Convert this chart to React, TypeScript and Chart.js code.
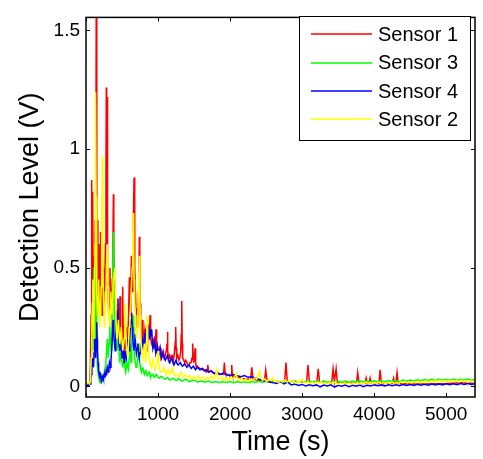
import React, { useEffect, useRef } from "react";
import { Chart, registerables } from "chart.js";

Chart.register(...registerables);

const FONT = "'Liberation Sans', Arial, Helvetica, sans-serif";

const xTicks = [0, 1000, 2000, 3000, 4000, 5000];
const yTicks = [0, 0.5, 1, 1.5];
const xTitle = "Time (s)";
const yTitle = "Detection Level (V)";
const seriesLabels = ["Sensor 1", "Sensor 3", "Sensor 4", "Sensor 2"];
const seriesColors = ["#ff0000", "#00ff00", "#0000ff", "#ffff00"];

// [time (s), level (V)]
const sensor1: [number, number][] = [
  [0, 0.01], [20, 0.01], [40, 0.015], [55, 0.02], [62, 0.1], [70, 0.3], [79, 0.87], [84, 0.4], [88, 0.2], [92, 0.5], [97, 0.82],
  [101, 0.3], [105, 0.35], [112, 0.55], [120, 0.4], [128, 0.7], [135, 0.6], [143, 1.75], [148, 0.8], [152, 0.5], [158, 0.7], [165, 0.35],
  [172, 0.5], [180, 0.6], [187, 0.4], [195, 0.3], [202, 0.65], [210, 0.45], [218, 0.55], [225, 0.3], [232, 0.42], [240, 0.5],
  [248, 0.3], [255, 0.35], [262, 0.45], [270, 0.6], [277, 0.9], [282, 1.26], [287, 0.7], [292, 1.22],
  [297, 0.8], [302, 0.5], [308, 0.4], [315, 0.3], [324, 0.38], [333, 0.5], [341, 0.35], [350, 0.3], [358, 0.38], [365, 0.45], [373, 0.55], [380, 0.81], [386, 0.6], [392, 0.45], [398, 0.35], [405, 0.3],
  [412, 0.35], [420, 0.25], [430, 0.28], [440, 0.32], [447, 0.22], [455, 0.2], [463, 0.28], [472, 0.38], [478, 0.25], [485, 0.2], [492, 0.24], [500, 0.18], [509, 0.42], [515, 0.26], [520, 0.2],
  [530, 0.22], [540, 0.15], [550, 0.2], [560, 0.25], [570, 0.17], [580, 0.2], [591, 0.3], [602, 0.46], [608, 0.35], [615, 0.3], [622, 0.4], [630, 0.55], [637, 0.45], [645, 0.4], [651, 0.5], [657, 0.7],
  [667, 0.88], [673, 0.65], [680, 0.5], [688, 0.38], [695, 0.3], [702, 0.33], [710, 0.25], [719, 0.3], [728, 0.4], [735, 0.5], [741, 0.63], [747, 0.45], [752, 0.35], [760, 0.25], [770, 0.2],
  [780, 0.28], [790, 0.25], [800, 0.2], [810, 0.18], [820, 0.24], [830, 0.22], [840, 0.17], [850, 0.15], [860, 0.19], [870, 0.2], [880, 0.22], [889, 0.3], [895, 0.24], [900, 0.2], [910, 0.18], [920, 0.17],
  [932, 0.19], [945, 0.2], [958, 0.16], [966, 0.2], [972, 0.24], [978, 0.18], [985, 0.15], [997, 0.16], [1010, 0.14], [1025, 0.16], [1040, 0.12], [1055, 0.14], [1070, 0.15], [1085, 0.12], [1100, 0.13], [1115, 0.15], [1125, 0.18], [1130, 0.23],
  [1138, 0.15], [1145, 0.12], [1158, 0.13], [1170, 0.11], [1185, 0.13], [1200, 0.13], [1215, 0.11], [1230, 0.15], [1240, 0.19], [1245, 0.25], [1252, 0.16], [1260, 0.12], [1275, 0.13], [1290, 0.11], [1303, 0.12], [1315, 0.15],
  [1322, 0.22], [1329, 0.36], [1336, 0.18], [1342, 0.12], [1356, 0.11], [1370, 0.1], [1385, 0.11], [1400, 0.1], [1415, 0.09], [1430, 0.09], [1445, 0.1], [1460, 0.1], [1472, 0.12], [1481, 0.18], [1488, 0.12], [1495, 0.1],
  [1505, 0.12], [1514, 0.16], [1522, 0.1], [1530, 0.08], [1545, 0.085], [1560, 0.08], [1580, 0.075], [1600, 0.07], [1620, 0.075], [1640, 0.07], [1655, 0.065], [1670, 0.06], [1682, 0.07], [1690, 0.09], [1700, 0.07], [1710, 0.06],
  [1730, 0.065], [1750, 0.06], [1775, 0.055], [1800, 0.05], [1825, 0.055], [1850, 0.05], [1875, 0.052], [1900, 0.05], [1912, 0.06], [1921, 0.1], [1930, 0.06], [1940, 0.05], [1960, 0.048], [1980, 0.05], [2005, 0.04],
  [2015, 0.05], [2023, 0.09], [2031, 0.05], [2040, 0.04], [2070, 0.042], [2100, 0.04], [2150, 0.035], [2200, 0.03], [2250, 0.03], [2285, 0.03], [2301, 0.08],
  [2318, 0.03], [2400, 0.025], [2478, 0.025], [2495, 0.07], [2512, 0.025], [2600, 0.02], [2700, 0.02], [2758, 0.02],
  [2776, 0.1], [2794, 0.02], [2900, 0.02], [3000, 0.018], [3062, 0.018], [3082, 0.09], [3100, 0.018], [3205, 0.018],
  [3224, 0.074], [3242, 0.018], [3410, 0.015], [3430, 0.074], [3448, 0.02], [3472, 0.074], [3490, 0.015], [3600, 0.015],
  [3755, 0.012], [3772, 0.058], [3790, 0.012], [3872, 0.012], [3889, 0.035], [3905, 0.012], [3928, 0.012], [3944, 0.035],
  [3960, 0.012], [4066, 0.012], [4083, 0.07], [4100, 0.012], [4250, 0.012], [4270, 0.035], [4285, 0.012], [4302, 0.012],
  [4318, 0.058], [4335, 0.012], [4500, 0.01], [4700, 0.01], [5000, 0.012], [5200, 0.015], [5400, 0.012],
];

const sensor3: [number, number][] = [
  [0, 0.005], [40, 0.005], [60, 0.02], [70, 0.1], [80, 0.3], [88, 0.2], [95, 0.15], [102, 0.3], [110, 0.5], [118, 0.3], [125, 0.2], [132, 0.4], [140, 0.6],
  [147, 0.3], [155, 0.1], [165, 0.06], [175, 0.04], [185, 0.025], [195, 0.015], [205, 0.025], [215, 0.02], [225, 0.035], [235, 0.03], [245, 0.05], [255, 0.06], [265, 0.08], [275, 0.1], [285, 0.14], [295, 0.2],
  [302, 0.15], [310, 0.12], [320, 0.18], [330, 0.25], [340, 0.18], [350, 0.15], [358, 0.22], [365, 0.35], [372, 0.5], [380, 0.65], [386, 0.45], [392, 0.3], [400, 0.24], [410, 0.2], [420, 0.17], [430, 0.15],
  [440, 0.18], [450, 0.22], [460, 0.14], [470, 0.1], [480, 0.13], [490, 0.15], [500, 0.1], [510, 0.08], [520, 0.1], [530, 0.12], [540, 0.08], [550, 0.06], [560, 0.08], [570, 0.1], [580, 0.08], [590, 0.07],
  [600, 0.12], [610, 0.18], [618, 0.13], [625, 0.1], [635, 0.18], [645, 0.25], [652, 0.27], [660, 0.3], [667, 0.2], [675, 0.12], [685, 0.1], [695, 0.08], [705, 0.09], [715, 0.1], [725, 0.14], [735, 0.18],
  [742, 0.12], [750, 0.09], [760, 0.07], [770, 0.06], [780, 0.075], [790, 0.08], [800, 0.06], [810, 0.05], [820, 0.06], [830, 0.07], [840, 0.05], [850, 0.045], [862, 0.055], [875, 0.06], [888, 0.045], [900, 0.04],
  [915, 0.05], [930, 0.05], [945, 0.038], [960, 0.04], [975, 0.05], [990, 0.045], [1005, 0.035], [1020, 0.035], [1040, 0.042], [1060, 0.04], [1080, 0.032], [1100, 0.03], [1120, 0.036], [1140, 0.035], [1160, 0.027], [1180, 0.028],
  [1200, 0.034], [1220, 0.032], [1240, 0.026], [1260, 0.025], [1280, 0.032], [1300, 0.03], [1325, 0.022], [1350, 0.024], [1375, 0.03], [1400, 0.028], [1425, 0.02], [1450, 0.02], [1475, 0.027], [1500, 0.025], [1550, 0.018],
  [1600, 0.022], [1650, 0.017], [1700, 0.022], [1750, 0.016], [1800, 0.02], [1850, 0.015], [1900, 0.02], [1950, 0.016],
  [2000, 0.02], [2050, 0.015], [2100, 0.02], [2150, 0.016], [2200, 0.019], [2250, 0.015], [2300, 0.02], [2350, 0.016],
  [2400, 0.021], [2450, 0.017], [2500, 0.022], [2550, 0.017], [2600, 0.021], [2650, 0.016], [2700, 0.02], [2750, 0.016],
  [2800, 0.021], [2850, 0.017], [2900, 0.022], [2950, 0.017], [3000, 0.021], [3050, 0.018], [3100, 0.023], [3150, 0.017],
  [3200, 0.021], [3250, 0.017], [3300, 0.022], [3350, 0.016], [3400, 0.02], [3450, 0.016], [3500, 0.021], [3550, 0.017],
  [3600, 0.022], [3650, 0.017], [3700, 0.021], [3750, 0.018], [3800, 0.023], [3850, 0.018], [3900, 0.022], [3950, 0.018],
  [4000, 0.023], [4050, 0.019], [4100, 0.022], [4150, 0.019], [4200, 0.024], [4250, 0.02], [4300, 0.024], [4350, 0.02],
  [4400, 0.026], [4450, 0.022], [4500, 0.027], [4550, 0.023], [4600, 0.028], [4650, 0.024], [4700, 0.029], [4750, 0.025],
  [4800, 0.03], [4850, 0.025], [4900, 0.031], [4950, 0.026], [5000, 0.03], [5050, 0.026], [5100, 0.031], [5150, 0.026],
  [5200, 0.03], [5250, 0.027], [5300, 0.031], [5350, 0.026], [5400, 0.029],
];

const sensor4: [number, number][] = [
  [0, 0.005], [40, 0.005], [60, 0.01], [68, 0.03], [75, 0.05], [82, 0.09], [90, 0.12], [97, 0.1], [105, 0.08], [112, 0.14], [120, 0.2], [127, 0.15], [135, 0.12],
  [143, 0.2], [150, 0.27], [155, 0.2], [160, 0.15], [167, 0.1], [175, 0.07], [182, 0.05], [190, 0.04], [197, 0.055], [205, 0.05], [212, 0.035], [220, 0.03], [228, 0.04], [236, 0.045], [243, 0.035], [250, 0.04],
  [258, 0.05], [265, 0.06], [272, 0.045], [280, 0.05], [288, 0.07], [295, 0.08], [302, 0.065], [310, 0.06], [318, 0.08], [325, 0.1], [332, 0.09], [340, 0.08], [347, 0.11], [355, 0.15], [365, 0.2], [375, 0.28],
  [382, 0.24], [390, 0.2], [398, 0.17], [405, 0.15], [412, 0.19], [420, 0.25], [432, 0.3], [444, 0.37], [450, 0.27], [455, 0.2], [462, 0.17], [470, 0.15], [478, 0.17], [485, 0.2], [492, 0.15], [500, 0.12],
  [507, 0.15], [515, 0.18], [522, 0.13], [530, 0.1], [537, 0.12], [545, 0.15], [552, 0.13], [560, 0.12], [570, 0.16], [580, 0.2], [590, 0.17], [600, 0.15], [607, 0.2], [615, 0.25], [625, 0.28], [634, 0.31],
  [642, 0.25], [650, 0.2], [657, 0.17], [665, 0.15], [672, 0.18], [680, 0.22], [690, 0.17], [700, 0.14], [710, 0.16], [720, 0.18], [730, 0.14], [740, 0.12], [750, 0.14], [760, 0.16], [770, 0.18], [780, 0.2],
  [790, 0.17], [800, 0.15], [810, 0.18], [820, 0.22], [830, 0.2], [840, 0.18], [850, 0.22], [861, 0.26], [868, 0.22], [875, 0.2], [882, 0.21], [890, 0.23], [900, 0.21], [912, 0.24], [921, 0.19], [930, 0.16],
  [940, 0.17], [950, 0.19], [960, 0.16], [970, 0.14], [980, 0.15], [990, 0.17], [1000, 0.15], [1010, 0.13], [1020, 0.14], [1030, 0.16], [1040, 0.14], [1050, 0.12], [1060, 0.13], [1070, 0.14], [1085, 0.12], [1100, 0.11],
  [1115, 0.12], [1130, 0.13], [1145, 0.11], [1160, 0.1], [1175, 0.11], [1190, 0.12], [1205, 0.1], [1220, 0.09], [1235, 0.1], [1250, 0.11], [1265, 0.095], [1280, 0.09], [1295, 0.095], [1310, 0.1], [1325, 0.09], [1340, 0.085],
  [1370, 0.095], [1400, 0.08], [1430, 0.09], [1460, 0.075], [1490, 0.085], [1520, 0.07], [1550, 0.08], [1580, 0.07],
  [1610, 0.075], [1640, 0.065], [1670, 0.07], [1700, 0.06], [1740, 0.065], [1780, 0.055], [1820, 0.06], [1860, 0.05],
  [1900, 0.055], [1950, 0.05], [2000, 0.045], [2050, 0.05], [2100, 0.045], [2150, 0.04], [2200, 0.045], [2250, 0.038],
  [2300, 0.04], [2350, 0.035], [2400, 0.03], [2450, 0.025], [2500, 0.02], [2550, 0.018], [2600, 0.015], [2650, 0.012],
  [2700, 0.02], [2750, 0.01], [2800, 0.018], [2850, 0.006], [2900, 0.01], [2950, 0.004], [3000, 0.008], [3050, 0.002],
  [3100, 0.007], [3150, 0.003], [3200, 0.006], [3250, -0.002], [3300, 0.005], [3350, 0.001], [3400, 0.006], [3450, -0.003],
  [3500, 0.004], [3550, 0.0], [3600, 0.005], [3650, -0.002], [3700, 0.004], [3750, 0.0], [3800, 0.005], [3850, -0.002],
  [3900, 0.004], [3950, 0.001], [4000, 0.006], [4050, 0.002], [4100, 0.006], [4150, 0.002], [4200, 0.007], [4250, 0.003],
  [4300, 0.007], [4350, 0.003], [4400, 0.008], [4450, 0.004], [4500, 0.008], [4550, 0.004], [4600, 0.009], [4650, 0.005],
  [4700, 0.009], [4750, 0.005], [4800, 0.01], [4850, 0.006], [4900, 0.01], [4950, 0.006], [5000, 0.011], [5050, 0.007],
  [5100, 0.011], [5150, 0.007], [5200, 0.012], [5250, 0.008], [5300, 0.012], [5350, 0.008], [5400, 0.011],
];

const sensor2: [number, number][] = [
  [0, 0.01], [30, 0.015], [50, 0.01], [58, 0.02], [65, 0.05], [72, 0.12], [80, 0.2], [88, 0.35], [95, 0.45], [102, 0.3], [110, 0.2], [118, 0.4], [125, 0.6],
  [130, 0.9], [134, 1.24], [140, 0.8], [145, 0.5], [152, 0.4], [160, 0.3], [168, 0.38], [175, 0.45], [182, 0.35], [190, 0.25], [197, 0.3], [205, 0.35], [210, 0.42], [215, 0.5], [221, 0.7], [227, 0.97],
  [233, 0.6], [240, 0.4], [247, 0.32], [255, 0.25], [262, 0.3], [270, 0.35], [278, 0.42], [285, 0.5], [292, 0.55], [300, 0.6], [307, 0.42], [315, 0.3], [322, 0.27], [330, 0.25], [338, 0.32], [345, 0.4],
  [352, 0.34], [360, 0.3], [370, 0.36], [380, 0.45], [390, 0.48], [400, 0.5], [407, 0.38], [415, 0.3], [422, 0.24], [430, 0.2], [440, 0.24], [450, 0.28], [460, 0.22], [470, 0.18], [480, 0.21], [490, 0.25],
  [500, 0.19], [510, 0.15], [520, 0.17], [530, 0.2], [538, 0.28], [545, 0.35], [552, 0.25], [560, 0.18], [570, 0.14], [580, 0.12], [590, 0.18], [600, 0.25], [610, 0.3], [620, 0.35], [630, 0.42], [640, 0.5],
  [648, 0.6], [655, 0.73], [662, 0.58], [668, 0.45], [676, 0.36], [685, 0.3], [692, 0.24], [700, 0.2], [710, 0.24], [720, 0.3], [730, 0.42], [740, 0.55], [746, 0.42], [752, 0.3], [760, 0.22], [770, 0.15],
  [780, 0.13], [790, 0.12], [800, 0.15], [810, 0.18], [820, 0.13], [830, 0.1], [840, 0.18], [850, 0.3], [857, 0.22], [865, 0.15], [875, 0.12], [885, 0.1], [895, 0.09], [905, 0.08], [918, 0.1], [930, 0.12],
  [942, 0.09], [955, 0.07], [968, 0.08], [980, 0.09], [990, 0.11], [1000, 0.15], [1010, 0.1], [1020, 0.07], [1035, 0.065], [1050, 0.06], [1065, 0.07], [1080, 0.08], [1095, 0.06], [1110, 0.05], [1125, 0.06], [1140, 0.07],
  [1155, 0.055], [1170, 0.05], [1185, 0.06], [1200, 0.08], [1215, 0.06], [1230, 0.045], [1245, 0.05], [1260, 0.05], [1275, 0.045], [1290, 0.04], [1305, 0.05], [1320, 0.06], [1335, 0.045], [1350, 0.04], [1365, 0.045], [1380, 0.05],
  [1410, 0.035], [1440, 0.045], [1470, 0.03], [1500, 0.04], [1530, 0.03], [1560, 0.045], [1590, 0.03], [1620, 0.04],
  [1650, 0.028], [1680, 0.038], [1710, 0.03], [1740, 0.045], [1770, 0.03], [1800, 0.05], [1815, 0.07], [1830, 0.035],
  [1860, 0.03], [1890, 0.04], [1920, 0.025], [1950, 0.035], [1980, 0.028], [2010, 0.04], [2040, 0.03], [2070, 0.045],
  [2085, 0.055], [2100, 0.03], [2130, 0.025], [2160, 0.035], [2190, 0.022], [2220, 0.03], [2250, 0.02], [2280, 0.03],
  [2310, 0.025], [2340, 0.035], [2370, 0.03], [2395, 0.05], [2410, 0.062], [2425, 0.035], [2450, 0.025], [2480, 0.03],
  [2510, 0.02], [2540, 0.028], [2570, 0.025], [2590, 0.037], [2610, 0.02], [2640, 0.022], [2670, 0.016], [2700, 0.024],
  [2730, 0.018], [2760, 0.026], [2790, 0.018], [2820, 0.024], [2850, 0.016], [2880, 0.022], [2910, 0.014], [2940, 0.02],
  [2970, 0.016], [3000, 0.03], [3020, 0.018], [3050, 0.014], [3080, 0.02], [3110, 0.012], [3140, 0.018], [3170, 0.012],
  [3200, 0.018], [3230, 0.014], [3260, 0.02], [3290, 0.012], [3320, 0.016], [3350, 0.01], [3380, 0.016], [3410, 0.012],
  [3440, 0.018], [3470, 0.014], [3500, 0.008], [3530, 0.014], [3560, 0.01], [3590, 0.016], [3620, 0.01], [3650, 0.014],
  [3680, 0.008], [3710, 0.014], [3740, 0.01], [3770, 0.016], [3800, 0.01], [3830, 0.014], [3860, 0.012], [3890, 0.018],
  [3920, 0.012], [3950, 0.016], [3980, 0.01], [4010, 0.015], [4040, 0.012], [4070, 0.018], [4100, 0.012], [4130, 0.016],
  [4160, 0.01], [4190, 0.016], [4220, 0.012], [4250, 0.018], [4280, 0.012], [4310, 0.016], [4340, 0.012], [4370, 0.018],
  [4400, 0.014], [4430, 0.02], [4460, 0.014], [4490, 0.018], [4520, 0.014], [4550, 0.02], [4580, 0.016], [4610, 0.022],
  [4640, 0.016], [4670, 0.02], [4700, 0.016], [4730, 0.022], [4760, 0.018], [4790, 0.024], [4820, 0.018], [4850, 0.024],
  [4880, 0.02], [4910, 0.026], [4940, 0.02], [4970, 0.024], [5000, 0.018], [5030, 0.024], [5060, 0.02], [5090, 0.026],
  [5120, 0.02], [5150, 0.024], [5180, 0.018], [5210, 0.026], [5240, 0.02], [5270, 0.024], [5300, 0.018], [5330, 0.024],
  [5360, 0.02], [5400, 0.022],
];

const seriesData = [sensor1, sensor3, sensor4, sensor2];
// MATLAB plots in order, later lines on top (Chart.js: lower order drawn on top)
const drawOrder = [4, 3, 2, 1];

const frameAndLegend = {
  id: "frameAndLegend",
  afterDatasetsDraw(chart: any) {
    const { ctx, chartArea, scales } = chart;
    const { left, right, top, bottom } = chartArea;
    ctx.save();
    ctx.strokeStyle = "#000";
    // inward ticks on all four sides
    ctx.lineWidth = 1;
    const tl = 4;
    ctx.beginPath();
    for (const v of xTicks) {
      const x = Math.round(scales.x.getPixelForValue(v)) + 0.5;
      ctx.moveTo(x, bottom);
      ctx.lineTo(x, bottom - tl);
      ctx.moveTo(x, top);
      ctx.lineTo(x, top + tl);
    }
    for (const v of yTicks) {
      const y = Math.round(scales.y.getPixelForValue(v)) + 0.5;
      ctx.moveTo(left, y);
      ctx.lineTo(left + tl, y);
      ctx.moveTo(right, y);
      ctx.lineTo(right - tl, y);
    }
    ctx.stroke();
    // box
    ctx.lineWidth = 1.5;
    ctx.strokeRect(left, top, right - left, bottom - top);

    // legend (MATLAB style, inside axes, north-east)
    const bx = 299.5, by = 16.5, bw = 171, bh = 124;
    ctx.fillStyle = "#fff";
    ctx.fillRect(bx, by, bw, bh);
    ctx.lineWidth = 1;
    ctx.strokeStyle = "#000";
    ctx.strokeRect(bx, by, bw, bh);
    ctx.font = `20px ${FONT}`;
    ctx.textBaseline = "middle";
    ctx.textAlign = "left";
    const rowY = [34, 62.5, 91, 119];
    seriesLabels.forEach((label, i) => {
      const y = Math.round(rowY[i]);
      ctx.strokeStyle = seriesColors[i];
      ctx.lineWidth = 1.6;
      ctx.beginPath();
      ctx.moveTo(311, y);
      ctx.lineTo(372, y);
      ctx.stroke();
      ctx.fillStyle = "#000";
      ctx.fillText(label, 378, rowY[i] + 1);
    });
    ctx.restore();
  },
};

export default function App() {
  const ref = useRef<HTMLCanvasElement | null>(null);

  useEffect(() => {
    if (!ref.current) return;
    const chart = new Chart(ref.current, {
      type: "line",
      data: {
        datasets: seriesData.map((s, i) => ({
          label: seriesLabels[i],
          data: s.map(([t, v]) => ({ x: t, y: v })),
          borderColor: seriesColors[i],
          backgroundColor: seriesColors[i],
          borderWidth: 1.5,
          pointRadius: 0,
          fill: false,
          tension: 0,
          order: drawOrder[i],
        })),
      },
      options: {
        animation: false,
        responsive: false,
        maintainAspectRatio: false,
        devicePixelRatio: 1,
        layout: { padding: { top: 8, right: 8, left: 0, bottom: 0 } },
        plugins: {
          legend: { display: false },
          tooltip: { enabled: false },
        },
        scales: {
          x: {
            type: "linear",
            min: 0,
            max: 5400,
            afterBuildTicks: (s: any) => {
              s.ticks = xTicks.map((v) => ({ value: v }));
            },
            afterFit: (s: any) => {
              s.height = 62;
            },
            ticks: {
              callback: (v: any) => String(v),
              font: { family: FONT, size: 19 },
              color: "#000",
              padding: 6,
              maxRotation: 0,
              autoSkip: false,
            },
            grid: { display: false, drawTicks: false },
            border: { display: false },
            title: {
              display: true,
              text: xTitle,
              font: { family: FONT, size: 27 },
              color: "#000",
              padding: { top: 0, bottom: 0 },
            },
          },
          y: {
            type: "linear",
            min: -0.045,
            max: 1.555,
            afterBuildTicks: (s: any) => {
              s.ticks = yTicks.map((v) => ({ value: v }));
            },
            afterFit: (s: any) => {
              s.width = 86;
            },
            ticks: {
              callback: (v: any) => String(v),
              font: { family: FONT, size: 19 },
              color: "#000",
              padding: 6,
              autoSkip: false,
            },
            grid: { display: false, drawTicks: false },
            border: { display: false },
            title: {
              display: true,
              text: yTitle,
              font: { family: FONT, size: 27 },
              color: "#000",
              padding: { top: 14, bottom: 0 },
            },
          },
        },
      },
      plugins: [frameAndLegend],
    });
    return () => chart.destroy();
  }, []);

  return (
    <div style={{ position: "fixed", left: 0, top: 0, width: 483, height: 459, background: "#fff" }}>
      <canvas ref={ref} width={483} height={459} style={{ width: 483, height: 459, display: "block" }} />
    </div>
  );
}
